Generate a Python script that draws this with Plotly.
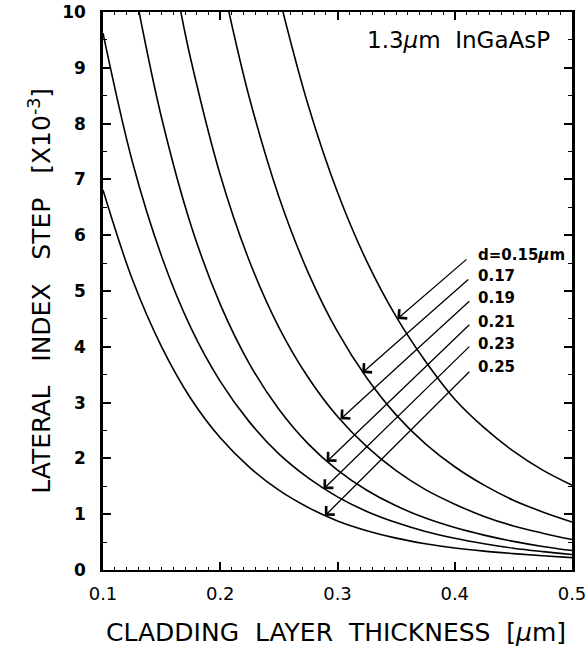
import plotly.graph_objects as go

# ---- data ----
labels = ["d=0.15<i>μ</i>m", "0.17", "0.19", "0.21", "0.23", "0.25"]

x_d015 = [0.2535, 0.275, 0.30, 0.325, 0.35, 0.375, 0.40, 0.425, 0.45, 0.475, 0.50]
y_d015 = [10.0, 8.33, 6.77, 5.53, 4.54, 3.74, 3.06, 2.55, 2.13, 1.79, 1.52]

x_d017 = [0.2074, 0.225, 0.25, 0.275, 0.30, 0.325, 0.35, 0.375, 0.40, 0.425, 0.45, 0.475, 0.50]
y_d017 = [10.0, 8.45, 6.69, 5.33, 4.27, 3.44, 2.78, 2.26, 1.85, 1.52, 1.25, 1.04, 0.86]

x_d019 = [0.1664, 0.175, 0.20, 0.225, 0.25, 0.275, 0.30, 0.325, 0.35, 0.375, 0.40, 0.425, 0.45, 0.475, 0.50]
y_d019 = [10.0, 9.14, 7.08, 5.53, 4.35, 3.45, 2.75, 2.21, 1.78, 1.44, 1.18, 0.96, 0.79, 0.66, 0.545]

x_d021 = [0.1308, 0.15, 0.175, 0.20, 0.225, 0.25, 0.275, 0.30, 0.325, 0.35, 0.375, 0.40, 0.425, 0.45, 0.475, 0.50]
y_d021 = [10.0, 8.10, 6.18, 4.76, 3.69, 2.88, 2.26, 1.79, 1.43, 1.15, 0.93, 0.76, 0.625, 0.513, 0.422, 0.348]

x_d023 = [0.1, 0.125, 0.15, 0.175, 0.20, 0.225, 0.25, 0.275, 0.30, 0.325, 0.35, 0.375, 0.40, 0.425, 0.45, 0.475, 0.50]
y_d023 = [9.62, 7.32, 5.62, 4.34, 3.38, 2.65, 2.08, 1.65, 1.31, 1.05, 0.85, 0.69, 0.568, 0.47, 0.39, 0.33, 0.278]

x_d025 = [0.1, 0.125, 0.15, 0.175, 0.20, 0.225, 0.25, 0.275, 0.30, 0.325, 0.35, 0.375, 0.40, 0.425, 0.45, 0.475, 0.50]
y_d025 = [6.81, 5.21, 4.00, 3.07, 2.37, 1.84, 1.43, 1.12, 0.88, 0.705, 0.571, 0.471, 0.395, 0.338, 0.294, 0.255, 0.222]

# arrow tips (on curves) and tails (near labels)
tip_x = [0.351, 0.321, 0.3025, 0.2907, 0.288, 0.2892]
tip_y = [4.50, 3.53, 2.70, 1.94, 1.45, 0.97]
tail_x = [0.4113, 0.4128, 0.4137, 0.4137, 0.4137, 0.4137]
tail_y = [5.59, 5.23, 4.84, 4.42, 4.03, 3.58]
label_x = [0.4183] * 6
label_y = [5.645, 5.27, 4.87, 4.44, 4.05, 3.64]

x_ticks = [0.1, 0.2, 0.3, 0.4, 0.5]
y_ticks = list(range(0, 11))

series = [(x_d015, y_d015), (x_d017, y_d017), (x_d019, y_d019),
          (x_d021, y_d021), (x_d023, y_d023), (x_d025, y_d025)]

fig = go.Figure()
for xs, ys in series:
    fig.add_trace(go.Scatter(x=xs, y=ys, mode="lines",
                             line=dict(color="black", width=1.6, shape="spline", smoothing=1.0),
                             showlegend=False, hoverinfo="skip", cliponaxis=True))

ann = []
for i in range(6):
    ann.append(dict(x=tip_x[i], y=tip_y[i], ax=tail_x[i], ay=tail_y[i],
                    xref="x", yref="y", axref="x", ayref="y",
                    showarrow=True, arrowhead=4, arrowsize=1.8, arrowwidth=1.3,
                    arrowcolor="black", text=""))
    ann.append(dict(x=label_x[i], y=label_y[i], xref="x", yref="y",
                    text=labels[i], showarrow=False, xanchor="left", yanchor="middle",
                    font=dict(family="DejaVu Sans", size=15, color="black", weight="bold")))

ann.append(dict(x=0.4826, y=9.5, xref="x", yref="y", text="1.3<i>μ</i>m  InGaAsP",
                showarrow=False, xanchor="right", yanchor="middle",
                font=dict(family="DejaVu Sans", size=23, color="black")))
ann.append(dict(x=0.497, y=-0.112, xref="paper", yref="paper",
                text="CLADDING  LAYER  THICKNESS  [<i>μ</i>m]",
                showarrow=False, xanchor="center", yanchor="middle",
                font=dict(family="DejaVu Sans", size=25, color="black")))
ann.append(dict(x=-0.135, y=0.50, xref="paper", yref="paper",
                text="LATERAL   INDEX   STEP   [X10<sup>-3</sup>]", textangle=-90,
                showarrow=False, xanchor="center", yanchor="middle",
                font=dict(family="DejaVu Sans", size=25, color="black")))

fig.update_layout(
    width=587, height=646,
    margin=dict(l=103, r=15, t=12, b=76),
    paper_bgcolor="white", plot_bgcolor="white",
    annotations=ann,
    xaxis=dict(range=[0.1, 0.5], tickvals=x_ticks, ticktext=[f"{v:.1f}" for v in x_ticks],
               ticks="inside", ticklen=8, tickwidth=1.5, tickcolor="black",
               showline=True, linewidth=2, linecolor="black", mirror="ticks",
               showgrid=False, zeroline=False, ticklabelstandoff=6, automargin=False,
               tickfont=dict(family="DejaVu Sans", size=18, color="black"),
               minor=dict(dtick=0.01, ticks="inside", ticklen=3, tickwidth=1, tickcolor="black")),
    yaxis=dict(range=[0, 10], tickvals=y_ticks,
               ticks="inside", ticklen=8, tickwidth=1.5, tickcolor="black",
               showline=True, linewidth=2.5, linecolor="black", mirror="ticks",
               showgrid=False, zeroline=False, ticklabelstandoff=11, automargin=False,
               tickfont=dict(family="DejaVu Sans", size=17, color="black", weight="bold"),
               minor=dict(dtick=0.5, ticks="inside", ticklen=4, tickwidth=1, tickcolor="black")),
)

fig.write_html("out.html")
